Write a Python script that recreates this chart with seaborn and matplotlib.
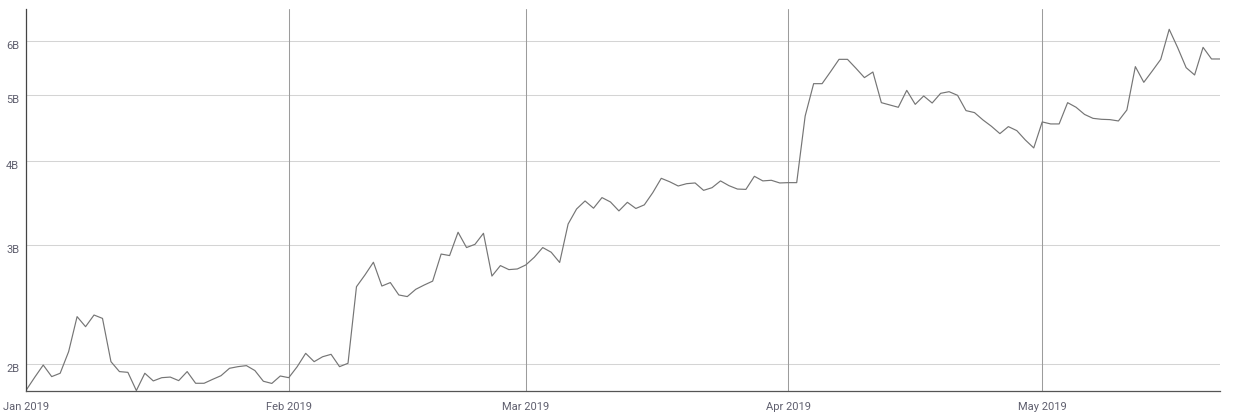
import pandas as pd
import numpy as np
import matplotlib
matplotlib.use('Agg')
import matplotlib.pyplot as plt
import matplotlib.transforms as mtransforms
from matplotlib.ticker import FixedLocator, NullLocator
import seaborn as sns

# Daily values, 1 Jan 2019 - 22 May 2019 (billions)
start_date = '2019-01-01'
end_date = '2019-05-22'
values_b = [
    1.833, 1.914, 1.995, 1.918, 1.940, 2.088, 2.352, 2.273, 2.365, 2.338,
    2.018, 1.951, 1.946, 1.829, 1.940, 1.890, 1.911, 1.915, 1.892, 1.951,
    1.875, 1.875, 1.900, 1.924, 1.973, 1.984, 1.991, 1.958, 1.888, 1.874,
    1.922, 1.911, 1.984, 2.076, 2.018, 2.052, 2.069, 1.984, 2.007, 2.604,
    2.710, 2.830, 2.610, 2.641, 2.532, 2.518, 2.581, 2.619, 2.654, 2.910,
    2.895, 3.134, 2.975, 3.008, 3.123, 2.700, 2.798, 2.760, 2.766, 2.804,
    2.878, 2.975, 2.928, 2.828, 3.223, 3.392, 3.486, 3.401, 3.526, 3.474,
    3.370, 3.470, 3.398, 3.440, 3.586, 3.765, 3.721, 3.668, 3.697, 3.706,
    3.614, 3.647, 3.732, 3.672, 3.630, 3.626, 3.791, 3.732, 3.740, 3.706,
    3.710, 3.710, 4.654, 5.195, 5.195, 5.411, 5.643, 5.643, 5.474, 5.303,
    5.405, 4.870, 4.832, 4.794, 5.078, 4.842, 4.982, 4.864, 5.027, 5.055,
    4.993, 4.740, 4.708, 4.592, 4.494, 4.383, 4.489, 4.428, 4.290, 4.175,
    4.561, 4.530, 4.530, 4.870, 4.794, 4.679, 4.617, 4.602, 4.597, 4.576,
    4.750, 5.505, 5.219, 5.424, 5.643, 6.250, 5.872, 5.486, 5.351, 5.878,
    5.650, 5.650,
]
y_ticks_b = [2, 3, 4, 5, 6]
y_tick_labels = ['2B', '3B', '4B', '5B', '6B']
month_ticks = ['2019-01-01', '2019-02-01', '2019-03-01', '2019-04-01', '2019-05-01']
month_labels = ['Jan 2019', 'Feb 2019', 'Mar 2019', 'Apr 2019', 'May 2019']

df = pd.DataFrame({
    'date': pd.date_range(start_date, end_date, freq='D'),
    'value': np.array(values_b) * 1e9,
})

sns.set_style('white')
plt.rcParams['font.family'] = ['Roboto', 'DejaVu Sans']

fig = plt.figure(figsize=(12.42, 4.19), dpi=100)
ax = fig.add_axes([26.3 / 1242, (419 - 391.3) / 419, (1220 - 26.3) / 1242, (391.3 - 9) / 419])

sns.lineplot(x='date', y='value', data=df, ax=ax, color='#757575', linewidth=0.85)

ax.set_yscale('log')
ax.set_ylim(1.8245e9, 6.697e9)
ax.set_xlim(pd.Timestamp(start_date), pd.Timestamp(end_date))

ax.yaxis.set_major_locator(FixedLocator([v * 1e9 for v in y_ticks_b]))
ax.yaxis.set_minor_locator(NullLocator())
ax.set_yticklabels(y_tick_labels)
ax.set_xticks(pd.to_datetime(month_ticks))
ax.set_xticklabels(month_labels)
ax.xaxis.set_minor_locator(NullLocator())

# grid: light horizontal, darker vertical month lines
ax.grid(False)
for v in y_ticks_b:
    ax.axhline(v * 1e9, color='#d4d4d4', lw=0.75, zorder=0)
for d in month_ticks[1:]:
    ax.axvline(pd.Timestamp(d), color='#9c9c9c', lw=0.75, zorder=0)

ax.set_xlabel('')
ax.set_ylabel('')
for s in ['top', 'right']:
    ax.spines[s].set_visible(False)
ax.spines['left'].set_color('#444444')
ax.spines['bottom'].set_color('#555555')
ax.spines['left'].set_linewidth(0.9)
ax.spines['bottom'].set_linewidth(0.9)

ax.tick_params(axis='both', length=0, labelsize=8, colors='#5f5f6e')
ax.tick_params(axis='y', pad=5)
ax.tick_params(axis='x', pad=8)

offset = mtransforms.ScaledTranslation(0, -4 / 100, fig.dpi_scale_trans)
for lbl in ax.get_yticklabels():
    lbl.set_transform(lbl.get_transform() + offset)

plt.savefig('out.png', dpi=100)
